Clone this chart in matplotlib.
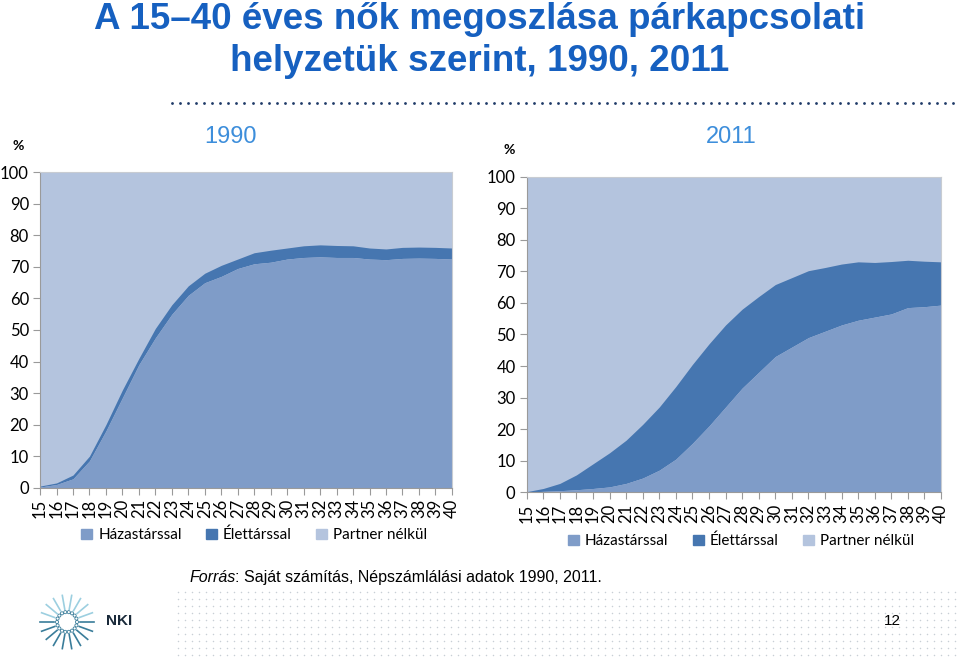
import numpy as np
import matplotlib.pyplot as plt
from matplotlib.patches import Patch

plt.rcParams['font.family'] = ['Lato', 'DejaVu Sans']

ages = list(range(15, 41))

# 1990: házas, házas+élettárs (kumulált felső határ)
hazas_1990 = [0.2, 1.0, 2.8, 8.5, 18, 28.5, 39, 47.5, 55, 61, 65, 67, 69.5, 71, 71.5,
              72.5, 73, 73.2, 73, 73, 72.5, 72.3, 72.7, 72.8, 72.7, 72.5]
egyutt_1990 = [0.5, 1.5, 4.0, 10, 20, 31, 41, 50.5, 58, 64, 68, 70.5, 72.5, 74.5, 75.3,
               76, 76.7, 77, 76.8, 76.7, 76, 75.7, 76.2, 76.3, 76.2, 76]

# 2011
hazas_2011 = [0, 0.3, 0.5, 0.8, 1.2, 1.7, 2.8, 4.5, 7, 10.5, 15.5, 21, 27, 33, 38,
              43, 46, 49, 51, 53, 54.5, 55.5, 56.5, 58.5, 58.8, 59.3]
egyutt_2011 = [0.2, 1.2, 2.8, 5.5, 9, 12.5, 16.5, 21.5, 27, 33.5, 40.5, 47, 53, 58, 62,
               65.8, 68, 70.2, 71.2, 72.3, 73, 72.8, 73.1, 73.5, 73.2, 73]

c_haz = '#7f9cc8'
c_ele = '#4676b0'
c_nel = '#b4c4de'
labels = ['Házastárssal', 'Élettárssal', 'Partner nélkül']

fig = plt.figure(figsize=(9.6, 6.59), dpi=100)

fig.text(0.5, 0.970, 'A 15–40 éves nők megoszlása párkapcsolati', ha='center', va='center',
         fontsize=26.5, fontweight='bold', color='#1660c0',
         family=['Liberation Sans Narrow', 'Liberation Sans', 'DejaVu Sans'])
fig.text(0.5, 0.906, 'helyzetük szerint, 1990, 2011', ha='center', va='center',
         fontsize=26.5, fontweight='bold', color='#1660c0',
         family=['Liberation Sans Narrow', 'Liberation Sans', 'DejaVu Sans'])

# pontozott vonal a cím alatt
line_ax = fig.add_axes([0, 0, 1, 1], zorder=-1)
line_ax.set_xlim(0, 960)
line_ax.set_ylim(659, 0)
line_ax.axis('off')
xd = np.arange(172, 956, 8.05)
line_ax.scatter(xd, np.full(len(xd), 103), s=4, color='#1f3a68', lw=0)

# pontozott háttér lent
gx, gy = np.meshgrid(np.arange(178, 960, 7), np.arange(592, 657, 7))
line_ax.scatter(gx.ravel(), gy.ravel(), s=1.2, color='#c8cfd6', lw=0)


def draw(rect, hazas, egyutt, year, pct_x, pct_y, title_x, title_y, leg_x, leg_y):
    ax = fig.add_axes(rect)
    h = np.array(hazas)
    e = np.array(egyutt)
    ax.fill_between(ages, 0, 100, color=c_nel, lw=0)
    ax.fill_between(ages, h, e, color=c_ele, lw=0)
    ax.fill_between(ages, 0, h, color=c_haz, lw=0)
    ax.set_xlim(15, 40)
    ax.set_ylim(0, 100)
    ax.set_xticks(ages)
    ax.set_xticklabels([str(a) for a in ages], rotation=90, fontsize=12)
    ax.set_yticks(range(0, 101, 10))
    ax.set_yticklabels([str(v) for v in range(0, 101, 10)], fontsize=12)
    for s in ['top', 'right']:
        ax.spines[s].set_color('#c8ccd2')
        ax.spines[s].set_linewidth(0.8)
    for s in ['left', 'bottom']:
        ax.spines[s].set_color('#9a9a9a')
        ax.spines[s].set_linewidth(0.8)
    ax.tick_params(axis='both', color='#9a9a9a', length=5, width=0.8, pad=3)
    fig.text(pct_x, pct_y, '%', fontsize=10, fontweight='bold', ha='center', va='center')
    fig.text(title_x, title_y, year, fontsize=17, color='#3d8edb', ha='center', va='center',
             family=['Liberation Sans Narrow', 'Liberation Sans', 'DejaVu Sans'])
    handles = [Patch(color=c) for c in [c_haz, c_ele, c_nel]]
    fig.legend(handles, labels, loc='center', bbox_to_anchor=(leg_x, leg_y),
               ncol=3, frameon=False, fontsize=11, handlelength=0.7, handleheight=0.7,
               handletextpad=0.4, columnspacing=1.6)
    return ax


draw([0.0417, 0.260, 0.429, 0.4785], hazas_1990, egyutt_1990, '1990',
     0.019, 0.778, 0.240, 0.792, 0.265, 0.188)
draw([0.5486, 0.253, 0.4316, 0.479], hazas_2011, egyutt_2011, '2011',
     0.530, 0.772, 0.762, 0.792, 0.772, 0.179)

fig.text(0.197, 0.124, 'Forrás', fontsize=11.5, style='italic', ha='left', va='center',
         family=['Liberation Sans', 'DejaVu Sans'])
fig.text(0.245, 0.124, ': Saját számítás, Népszámlálási adatok 1990, 2011.', fontsize=11.5,
         ha='left', va='center', family=['Liberation Sans', 'DejaVu Sans'])
fig.text(0.930, 0.057, '12', fontsize=11, ha='center', va='center',
         family=['Liberation Sans', 'DejaVu Sans'])

# NKI logó egyszerűsítve
cx, cy = 67, 622
for ang in np.linspace(0, 2 * np.pi, 18, endpoint=False):
    r1, r2 = 13, 27
    col = '#9ccfe0' if np.sin(ang) > 0.3 else '#3a7d9a'
    line_ax.plot([cx + r1 * np.cos(ang), cx + r2 * np.cos(ang)],
                 [cy - r1 * np.sin(ang), cy - r2 * np.sin(ang)], color=col, lw=1.2)
    line_ax.scatter(cx + 10 * np.cos(ang), cy - 10 * np.sin(ang), s=5,
                    facecolor='none', edgecolor='#3a7d9a', lw=0.6)
fig.text(0.110, 0.057, 'NKI', fontsize=11, fontweight='bold', ha='left', va='center',
         color='#1a2a3a', family=['Liberation Sans Narrow', 'Liberation Sans', 'DejaVu Sans'])

fig.savefig('out.png', dpi=100)
